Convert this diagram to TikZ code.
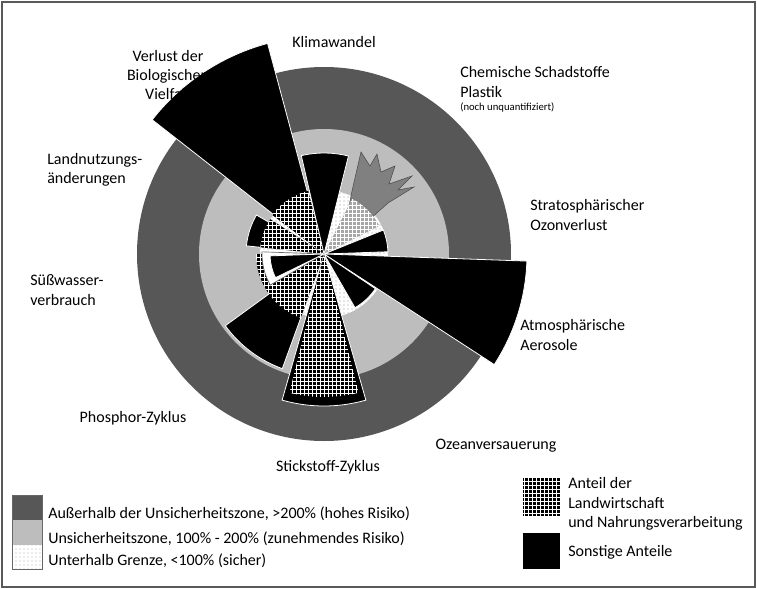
\documentclass[tikz,border=0pt]{standalone}
\usepackage{fontspec}
\setmainfont{Carlito}
\usetikzlibrary{patterns}
\begin{document}
\begin{tikzpicture}[x=0.75pt,y=0.75pt,
  lbl/.style={font=\fontsize{12}{14.5}\selectfont, align=left, inner sep=0pt},
  lblc/.style={lbl, align=center},
  darkzone/.style={fill=black!66},
  lightzone/.style={fill=black!26},
  safezone/.style={fill=white},
  other/.style={fill=black, draw=white, line width=0.6},
  agri/.style={pattern=grid, pattern color=white},
  swatch/.style={draw=black!60, line width=0.5}]
\useasboundingbox (0,0) rectangle (757,-589);
\draw[black!65, line width=2] (2,-2) rectangle (755,-587);
\newcommand\wdg[3]{(0,0) -- (#1:#3) arc[start angle=#1, end angle=#2, radius=#3] -- cycle}
\begin{scope}[shift={(324,-254)}]
  \coordinate (C) at (0,0);
  \fill[darkzone] (C) circle[radius=187];
  \fill[lightzone] (C) circle[radius=125];
  \fill[safezone] (C) circle[radius=64];
  \fill[pattern=dots, pattern color=black!40] (C) circle[radius=64];
  % Biodiversity
  \fill[other] \wdg{105}{142}{218};
  \fill[black] \wdg{104}{143}{65};
  \fill[agri] \wdg{104}{143}{65};
  % Klimawandel
  \fill[other] \wdg{76}{103}{101};
  % Chemicals
  \fill[black!50, draw=black!70] (28:20) -- (352-324,-191+254) -- (361-324,-152+254) -- (370-324,-166+254) -- (377-324,-154+254) -- (381-324,-172+254) -- (395-324,-166+254) -- (389-324,-184+254) -- (412-324,-176+254) -- (398-324,-190+254) -- (414-324,-187+254) -- (388-324,-203+254) -- cycle;
  \fill[black!35] \wdg{27}{63}{62};
  \fill[agri] \wdg{27}{63}{62};
  % Ozone
  \fill[other] \wdg{2}{22}{64};
  % Aerosols
  \fill[other] \wdg{327}{358}{203};
  % Ocean
  \fill[other] \wdg{300}{326}{62};
  % Nitrogen
  \fill[other] \wdg{254}{286}{152};
  \fill[black] \wdg{256}{284}{143};
  \fill[agri] \wdg{256}{284}{143};
  % Phosphorus
  \fill[other] \wdg{216}{250}{122};
  \fill[black] \wdg{180}{250}{68};
  \fill[agri] \wdg{180}{250}{68};
  % Freshwater
  \fill[white, draw=black!60, line width=0.5] \wdg{178}{210}{62};
  \fill[other] \wdg{182}{206}{54};
  % Land use
  \fill[other] \wdg{150}{174}{78};
  \fill[black] \wdg{147}{174}{64};
  \fill[agri] \wdg{147}{174}{64};
\end{scope}
% labels
\node[lblc] (bio) at (168,-75) {Verlust der\\Biologischen\\Vielfalt};
\node[lblc] (klima) at (334,-42) {Klimawandel};
\node[lbl, anchor=west] (chem) at (460,-82) {Chemische Schadstoffe\\Plastik};
\node[lbl, anchor=west, font=\fontsize{8}{9}\selectfont] (chem2) at (460,-107) {(noch unquantifiziert)};
\node[lbl, anchor=west] (ozon) at (530,-215) {Stratosphärischer\\Ozonverlust};
\node[lbl, anchor=west] (aero) at (520,-335) {Atmosphärische\\Aerosole};
\node[lblc] (ozean) at (496,-446) {Ozeanversauerung};
\node[lblc] (stick) at (328,-467) {Stickstoff-Zyklus};
\node[lblc] (phos) at (133,-418) {Phosphor-Zyklus};
\node[lbl, anchor=west] (wasser) at (30,-290) {Süßwasser-\\verbrauch};
\node[lbl, anchor=west] (land) at (47,-170) {Landnutzungs-\\änderungen};
% legend
\fill[darkzone] (12,-495) rectangle (42,-520);
\fill[lightzone] (12,-520) rectangle (42,-545);
\fill[white] (12,-545) rectangle (42,-569);
\fill[pattern=dots, pattern color=black!30] (12,-545) rectangle (42,-569);
\draw[swatch] (12,-495) rectangle (42,-569);
\node[lbl, anchor=west] (l1) at (48,-514) {Außerhalb der Unsicherheitszone, >200\% (hohes Risiko)};
\node[lbl, anchor=west] (l2) at (48,-539) {Unsicherheitszone, 100\% - 200\% (zunehmendes Risiko)};
\node[lbl, anchor=west] (l3) at (48,-561) {Unterhalb Grenze, <100\% (sicher)};
\fill[black] (523,-478) rectangle (560,-516);
\fill[agri] (523,-478) rectangle (560,-516);
\fill[black] (523,-533) rectangle (560,-569);
\node[lbl, anchor=west] (r1) at (568,-504) {Anteil der\\Landwirtschaft\\und Nahrungsverarbeitung};
\node[lbl, anchor=west] (r2) at (568,-552) {Sonstige Anteile};
\end{tikzpicture}
\end{document}
